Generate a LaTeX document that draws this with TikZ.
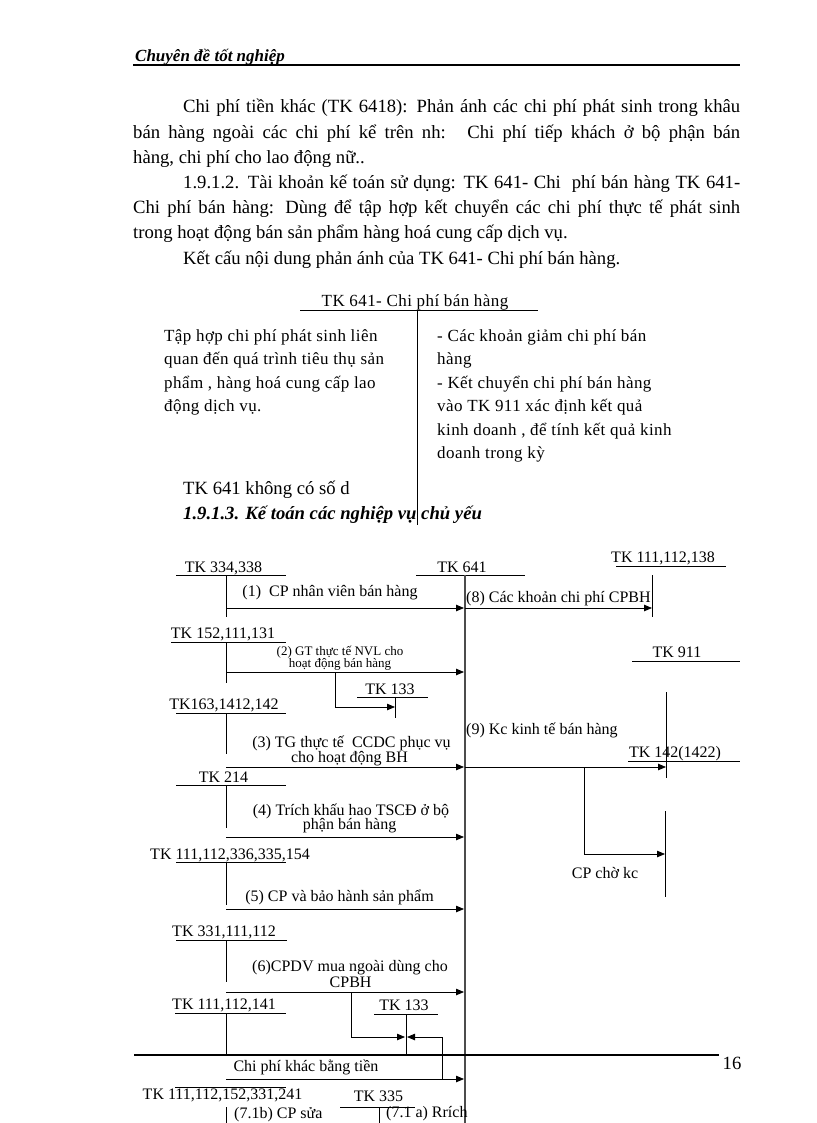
\documentclass[tikz,border=0pt]{standalone}
\usepackage{fontspec}
\setmainfont{Liberation Serif}
\newfontfamily\rkTfam[LetterSpace=2.5]{Liberation Serif}
\usetikzlibrary{arrows.meta}
\newcommand\rkBody{\fontsize{18.67}{22}\selectfont}
\newcommand\rkDiag{\fontsize{16}{19}\selectfont}
\newcommand\rkSmall{\fontsize{13}{15}\selectfont}
\newcommand\rkT{\rkTfam\fontsize{17}{20}\selectfont}
\newcommand\rkHead{\fontsize{17}{19}\selectfont\bfseries\itshape}
\newcommand\rkAcct[7]{%
  \node[lbl] (#1) at (#3,#4) {#2};
  \coordinate (#1-l) at (#5,#7);
  \coordinate (#1-r) at (#6,#7);
  \draw[acc] (#1-l) -- (#1-r);}
\newcommand\rkVert[4]{%
  \coordinate (#1-t) at (#2,#3);
  \coordinate (#1-b) at (#2,#4);
  \draw[acc] (#1-t) -- (#1-b);}
\newcommand\rkArr[4]{%
  \coordinate (#1-s) at (#2,#4);
  \coordinate (#1-e) at (#3,#4);
  \draw[arr] (#1-s) -- (#1-e);}
\begin{document}
\begin{tikzpicture}[x=1pt,y=-1pt,
  lbl/.style={font=\rkDiag,inner sep=0pt,anchor=base},
  sm/.style={font=\rkSmall,inner sep=0pt,anchor=base},
  body/.style={font=\rkBody,inner sep=0pt,anchor=base west},
  tacc/.style={font=\rkT,inner sep=0pt,anchor=base west},
  acc/.style={line width=0.8pt,black},
  arr/.style={line width=0.8pt,black,-{Triangle[length=8pt,width=6.5pt]}},
  main641/.style={line width=1.5pt,black!70}]
\useasboundingbox (0,0) rectangle (816,1123);
\fill[white] (0,0) rectangle (816,1123);
\clip (0,0) rectangle (816,1123);

% header
\node[font=\rkHead,inner sep=0pt,anchor=base west] (hd) at (135,61.5) {Chuyên đề tốt nghiệp};
\coordinate (hdl) at (133,65.5);
\coordinate (hdr) at (740,65.5);
\draw[line width=2pt] (hdl) -- (hdr);

% body text
\node[body] (l1) at (183,113) {\makebox[557pt][s]{Chi phí tiền khác (TK 6418): Phản ánh các chi phí phát sinh trong khâu}};
\node[body] (l2) at (133,138.2) {\makebox[607pt][s]{bán hàng ngoài các chi phí kể trên nh:~ Chi phí tiếp khách ở bộ phận bán}};
\node[body] (l3) at (133,163.4) {hàng, chi phí cho lao động nữ..};
\node[body] (l4) at (183,188.6) {\makebox[557pt][s]{1.9.1.2. Tài khoản kế toán sử dụng: TK 641- Chi~ phí bán hàng TK 641-}};
\node[body] (l5) at (133,213.8) {\makebox[607pt][s]{Chi phí bán hàng: Dùng để tập hợp kết chuyển các chi phí thực tế phát sinh}};
\node[body] (l6) at (133,239) {trong hoạt động bán sản phẩm hàng hoá cung cấp dịch vụ.};
\node[body] (l7) at (183,264.2) {Kết cấu nội dung phản ánh của TK 641- Chi phí bán hàng.};

% T account
\node[tacc,anchor=base] (tt) at (415,306) {TK 641- Chi phí bán hàng};
\coordinate (ttl) at (300,310);
\coordinate (ttr) at (538,310);
\coordinate (ttv1) at (417,310);
\coordinate (ttv2) at (417,525);
\draw[acc] (ttl) -- (ttr);
\draw[acc] (ttv1) -- (ttv2);
\node[tacc] (tl1) at (164,341) {Tập hợp chi phí phát sinh liên};
\node[tacc] (tl2) at (164,364.5) {quan đến quá trình tiêu thụ sản};
\node[tacc] (tl3) at (164,388) {phẩm , hàng hoá cung cấp lao};
\node[tacc] (tl4) at (164,411.5) {động dịch vụ.};
\node[tacc] (tr1) at (437,341) {- Các khoản giảm chi phí bán};
\node[tacc] (tr2) at (437,364.5) {hàng};
\node[tacc] (tr3) at (437,388) {- Kết chuyển chi phí bán hàng};
\node[tacc] (tr4) at (437,411.5) {vào TK 911 xác định kết quả};
\node[tacc] (tr5) at (437,435) {kinh doanh , để tính kết quả kinh};
\node[tacc] (tr6) at (437,458.5) {doanh trong kỳ};
\node[body] (nosd) at (183,494) {TK 641 không có số d};
\node[body,font=\rkBody\bfseries\itshape] (sec) at (183,519) {1.9.1.3. Kế toán các nghiệp vụ chủ yếu};

% main account TK 641
\rkAcct{a641}{TK 641}{462}{572}{416}{525}{575}
\coordinate (m-t) at (465,575);
\coordinate (m-b) at (465,1123);
\draw[main641] (m-t) -- (m-b);

% accounts
\rkAcct{a334}{TK 334,338}{223.5}{572}{176}{286}{575}
\rkVert{a334}{226}{575}{617}
\rkAcct{a111a}{TK 111,112,138}{663}{562}{616}{726}{566}
\rkVert{a111a}{652}{575}{617}
\rkAcct{a152}{TK 152,111,131}{223}{638}{171}{286}{642}
\rkVert{a152}{226}{642}{683}
\rkAcct{a133a}{TK 133}{390}{694}{357}{428}{697}
\rkVert{a133a}{395}{697}{718}
\rkAcct{a911}{TK 911}{677}{657}{632}{740}{661}
\rkVert{a911}{666}{692}{778}
\rkAcct{a163}{TK163,1412,142}{224}{709}{176}{286}{713}
\rkVert{a163}{226}{713}{754}
\rkAcct{a142}{TK 142(1422)}{675}{757}{628}{740}{761}
\rkVert{a142}{665}{811}{897}
\rkAcct{a214}{TK 214}{223.5}{782}{176}{286}{785}
\rkVert{a214}{226}{785}{828}
\rkAcct{a336}{TK 111,112,336,335,154}{230}{859}{176}{286}{862}
\rkVert{a336}{226}{862}{905}
\rkAcct{a331}{TK 331,111,112}{224}{936}{176}{287}{940}
\rkVert{a331}{226}{940}{982}
\rkAcct{a141}{TK 111,112,141}{224}{1009}{175}{286}{1013}
\rkVert{a141}{226}{1013}{1055}
\rkAcct{a133b}{TK 133}{404}{1010}{374}{438}{1014}
\rkVert{a133b}{406}{1014}{1055}
\rkAcct{a241}{TK 111,112,152,331,241}{222.5}{1099}{175}{286}{1087}
\rkVert{a241}{226}{1107}{1123}
\rkAcct{a335}{TK 335}{378.5}{1101}{340}{415}{1107}
\rkVert{a335}{379}{1107}{1123}

% arrows and labels
\node[lbl] (n1) at (330,596) {(1)~ CP nhân viên bán hàng};
\rkArr{r1}{226}{464}{608}
\node[lbl,anchor=base west] (n8) at (466,602) {(8) Các khoản chi phí CPBH};
\rkArr{r8}{465}{652}{608}
\node[sm] (n2a) at (340,655.5) {(2) GT thực tế NVL cho};
\node[sm] (n2b) at (340,667) {hoạt động bán hàng};
\rkArr{r2}{226}{464}{672}
\coordinate (b2s) at (335.5,672);
\coordinate (b2e) at (395,707);
\draw[arr] (b2s) |- (b2e);
\node[lbl,anchor=base west] (n9) at (466,734) {(9) Kc kinh tế bán hàng};
\node[lbl] (n3a) at (351.5,747) {(3) TG thực tế~ CCDC phục vụ};
\node[lbl] (n3b) at (349.5,762) {cho hoạt động BH};
\rkArr{r3}{226}{464}{767}
\rkArr{r9}{465}{666}{767}
\coordinate (b9s) at (584,767);
\coordinate (b9e) at (665,854);
\draw[arr] (b9s) |- (b9e);
\node[lbl] (n4a) at (351,815) {(4) Trích khấu hao TSCĐ ở bộ};
\node[lbl] (n4b) at (349.6,829) {phận bán hàng};
\rkArr{r4}{226}{464}{837}
\node[lbl] (ncp) at (605,878) {CP chờ kc};
\node[lbl] (n5) at (339.5,901) {(5) CP và bảo hành sản phẩm};
\rkArr{r5}{226}{464}{909}
\node[lbl] (n6a) at (350,971.5) {(6)CPDV mua ngoài dùng cho};
\node[lbl] (n6b) at (350.6,987) {CPBH};
\rkArr{r6}{226}{464}{992}
\coordinate (b6s) at (351,992);
\coordinate (b6e) at (405,1037);
\draw[arr] (b6s) |- (b6e);
\node[lbl] (n7) at (306,1071) {Chi phí khác bằng tiền};
\rkArr{r7}{226}{464}{1079}
\coordinate (b7s) at (442,1079);
\coordinate (b7e) at (407,1037);
\draw[arr] (b7s) |- (b7e);
\node[lbl,anchor=base west] (n71b) at (234,1118.5) {(7.1b) CP sửa};
\node[lbl,anchor=base west] (n71a) at (386,1117) {(7.1 a) Rrích};

% footer
\coordinate (ftl) at (134,1055);
\coordinate (ftr) at (719,1055);
\draw[line width=2.5pt] (ftl) -- (ftr);
\node[body,anchor=base] (pg) at (732,1069) {16};
\end{tikzpicture}
\end{document}
